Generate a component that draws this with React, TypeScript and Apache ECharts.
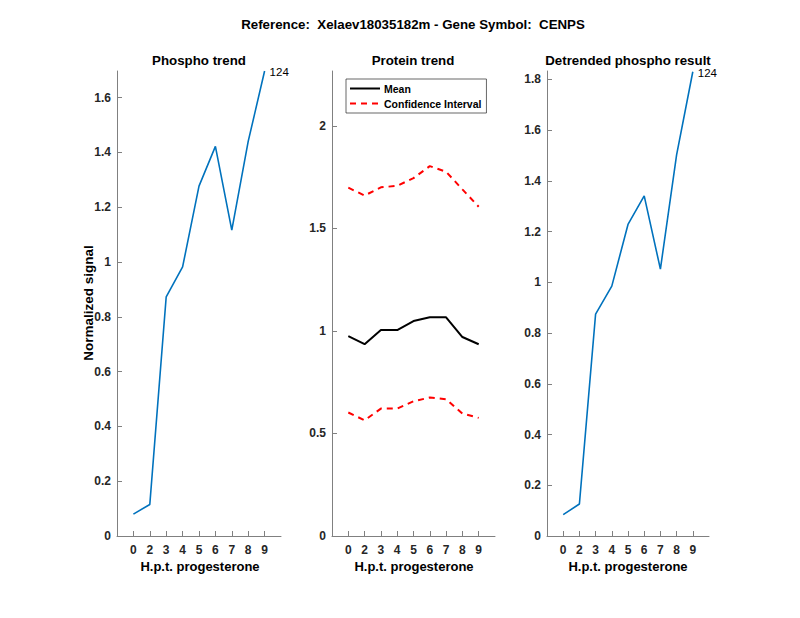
import React, { useEffect, useRef } from "react";
import * as echarts from "echarts";

const xLabels = ["0", "2", "3", "4", "5", "6", "7", "8", "9"];
const phospho = [0.08, 0.115, 0.873, 0.982, 1.277, 1.422, 1.116, 1.44, 1.697];
const proteinMean = [0.974, 0.935, 1.004, 1.004, 1.048, 1.066, 1.066, 0.97, 0.935];
const proteinUpper = [1.698, 1.66, 1.7, 1.707, 1.745, 1.803, 1.776, 1.69, 1.605];
const proteinLower = [0.602, 0.564, 0.621, 0.621, 0.657, 0.675, 0.667, 0.597, 0.576];
const detrended = [0.084, 0.126, 0.875, 0.985, 1.228, 1.341, 1.052, 1.502, 1.83];
const peakLabel = "124";
const yTicks1 = [0, 0.2, 0.4, 0.6, 0.8, 1, 1.2, 1.4, 1.6];
const yTicks2 = [0, 0.5, 1, 1.5, 2];
const yTicks3 = [0, 0.2, 0.4, 0.6, 0.8, 1, 1.2, 1.4, 1.6, 1.8];

const FONT = "'Liberation Sans', Arial, Helvetica, sans-serif";
const AX = "#808080";
const TXT = "#262626";

export default function App() {
  const ref = useRef<HTMLDivElement>(null);
  useEffect(() => {
    if (!ref.current) return;
    const chart = echarts.init(ref.current, null, { renderer: "svg" });
    const xPos = xLabels.map((_, i) => i + 1);
    const toPts = (arr: number[]) => arr.map((v, i) => [xPos[i], v]);
    const withLabel = (arr: number[]) =>
      arr.map((v, i) =>
        i === arr.length - 1
          ? {
              value: [xPos[i], v],
              symbol: "circle",
              symbolSize: 2,
              itemStyle: { color: "rgba(0,0,0,0)", borderWidth: 0 },
              label: {
                show: true,
                position: "right",
                distance: 4,
                offset: [0, 1],
                formatter: peakLabel,
                color: "#000",
                fontFamily: FONT,
                fontSize: 11.5,
                fontWeight: "normal",
              },
            }
          : { value: [xPos[i], v], symbol: "none" }
      );

    const grids = [
      { left: 117, top: 71, width: 164, height: 465 },
      { left: 332, top: 71, width: 163, height: 465 },
      { left: 547, top: 71, width: 162, height: 465 },
    ];
    const yMax = [1.697, 2.267, 1.833];
    const yTicks = [yTicks1, yTicks2, yTicks3];

    const xAxes = grids.map((_, gi) => ({
      type: "value",
      gridIndex: gi,
      min: 0,
      max: 10,
      interval: 1,
      axisLine: { show: true, lineStyle: { color: AX, width: 1 } },
      axisTick: {
        show: true,
        inside: true,
        length: 5,
        customValues: xPos,
        lineStyle: { color: AX },
      },
      axisLabel: {
        customValues: xPos,
        formatter: (v: number) => xLabels[Math.round(v) - 1] ?? "",
        color: TXT,
        fontFamily: FONT,
        fontSize: 12,
        fontWeight: "bold",
        margin: 8,
      },
      splitLine: { show: false },
    }));
    const yAxes = grids.map((_, gi) => ({
      type: "value",
      gridIndex: gi,
      min: 0,
      max: yMax[gi],
      axisLine: { show: true, lineStyle: { color: AX, width: 1 } },
      axisTick: {
        show: true,
        inside: true,
        length: 5,
        customValues: yTicks[gi],
        lineStyle: { color: AX },
      },
      axisLabel: {
        customValues: yTicks[gi],
        formatter: (v: number) => String(Math.round(v * 10) / 10),
        color: TXT,
        fontFamily: FONT,
        fontSize: 12,
        fontWeight: "bold",
        margin: 6,
      },
      splitLine: { show: false },
    }));

    const titleStyle = (x: number, y: number, text: string, size = 13.3) => ({
      type: "text",
      x,
      y,
      style: {
        text,
        fill: "#000",
        font: `bold ${size}px ${FONT}`,
        textAlign: "center",
        textVerticalAlign: "middle",
      },
    });

    chart.setOption({
      animation: false,
      backgroundColor: "#fff",
      grid: grids,
      xAxis: xAxes,
      yAxis: yAxes,
      legend: {
        data: ["Mean", "Confidence Interval"],
        orient: "vertical",
        left: 346,
        top: 79,
        itemWidth: 30,
        itemHeight: 10,
        itemGap: 4,
        padding: [4, 5, 4, 3],
        borderColor: TXT,
        borderWidth: 0.7,
        backgroundColor: "#fff",
        borderRadius: 0,
        itemStyle: { opacity: 0 },
        textStyle: { color: "#000", fontFamily: FONT, fontSize: 10.5, fontWeight: "bold", padding: [0, 0, 0, -1] },
      },
      graphic: [
        titleStyle(413, 24, "Reference:  Xelaev18035182m - Gene Symbol:  CENPS"),
        titleStyle(199, 60, "Phospho trend"),
        titleStyle(413, 60, "Protein trend"),
        titleStyle(628, 60, "Detrended phospho result"),
        titleStyle(200, 566, "H.p.t. progesterone", 13),
        titleStyle(414, 566, "H.p.t. progesterone", 13),
        titleStyle(628, 566, "H.p.t. progesterone", 13),
        {
          type: "text",
          x: 88,
          y: 303,
          rotation: Math.PI / 2,
          style: {
            text: "Normalized signal",
            fill: "#000",
            font: `bold 13.5px ${FONT}`,
            textAlign: "center",
            textVerticalAlign: "middle",
          },
        },
      ],
      series: [
        {
          type: "line",
          name: "Phospho",
          xAxisIndex: 0,
          yAxisIndex: 0,
          data: withLabel(phospho),
          showSymbol: true,
          lineStyle: { color: "#0072BD", width: 1.6 },
          itemStyle: { color: "#0072BD" },
        },
        {
          type: "line",
          name: "Mean",
          xAxisIndex: 1,
          yAxisIndex: 1,
          data: toPts(proteinMean),
          symbol: "none",
          lineStyle: { color: "#000", width: 2 },
          itemStyle: { color: "#000" },
        },
        {
          type: "line",
          name: "Confidence Interval",
          xAxisIndex: 1,
          yAxisIndex: 1,
          data: toPts(proteinUpper),
          symbol: "none",
          lineStyle: { color: "#FF0000", width: 2, type: [6, 5] },
          itemStyle: { color: "#FF0000" },
        },
        {
          type: "line",
          name: "Confidence Interval",
          xAxisIndex: 1,
          yAxisIndex: 1,
          data: toPts(proteinLower),
          symbol: "none",
          lineStyle: { color: "#FF0000", width: 2, type: [6, 5] },
          itemStyle: { color: "#FF0000" },
        },
        {
          type: "line",
          name: "Detrended",
          xAxisIndex: 2,
          yAxisIndex: 2,
          data: withLabel(detrended),
          showSymbol: true,
          lineStyle: { color: "#0072BD", width: 1.6 },
          itemStyle: { color: "#0072BD" },
        },
      ],
    });
    return () => chart.dispose();
  }, []);
  return (
    <div
      ref={ref}
      style={{ position: "absolute", left: 0, top: 0, width: 800, height: 618 }}
    />
  );
}
